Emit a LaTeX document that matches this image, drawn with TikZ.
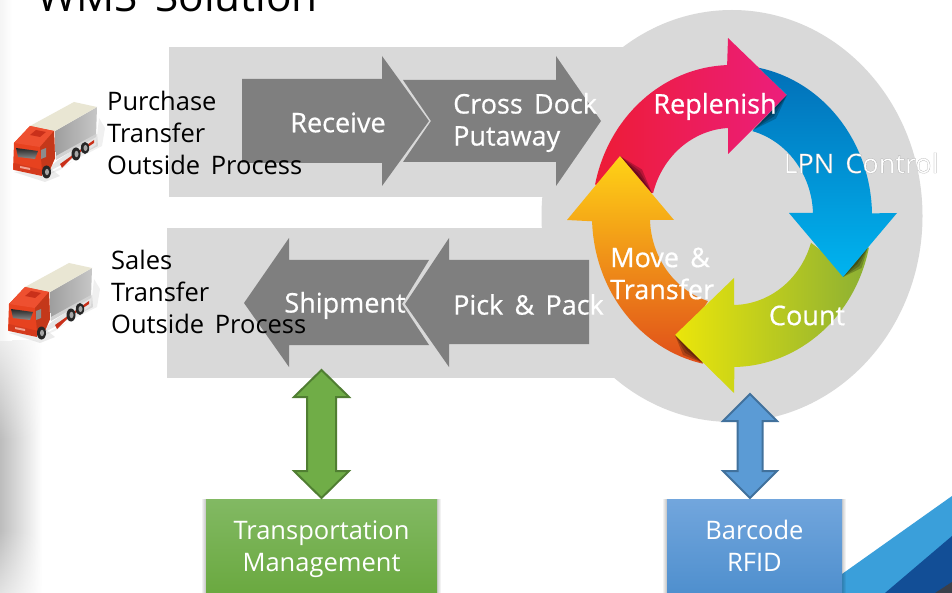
\documentclass[tikz,border=0pt]{standalone}
\usepackage{fontspec}
\setmainfont[WordSpace=1.6]{Open Sans}
\newfontfamily\labfont[WordSpace=1.6,FakeBold=0.6]{Open Sans}
\usetikzlibrary{calc,fadings,shapes.geometric}
\definecolor{panel}{HTML}{D9D9D9}
\definecolor{flow}{HTML}{7F7F7F}
\definecolor{Gfill}{HTML}{70AD47}\definecolor{Gline}{HTML}{507E32}
\definecolor{Bfill}{HTML}{5B9BD5}\definecolor{Bline}{HTML}{41719C}
\definecolor{cream}{HTML}{E9E6D3}
\definecolor{cabA}{HTML}{E7421F}\definecolor{cabB}{HTML}{EE5030}\definecolor{cabC}{HTML}{C9301A}
\definecolor{cabD}{HTML}{D43A1D}\definecolor{cabE}{HTML}{F1A090}
\definecolor{cornerA}{HTML}{3A9FDA}\definecolor{cornerB}{HTML}{124E96}\definecolor{cornerC}{HTML}{3A3F4A}
\definecolor{redA}{HTML}{ED1C36}\definecolor{redB}{HTML}{EC1E7C}
\definecolor{orgA}{HTML}{FFD316}\definecolor{orgB}{HTML}{E04E1A}
\definecolor{grnA}{HTML}{EBE60A}\definecolor{grnB}{HTML}{8BAF34}
\definecolor{bluA}{HTML}{0270B8}\definecolor{bluB}{HTML}{00B4F0}
\definecolor{tmsA}{HTML}{82B963}\definecolor{tmsB}{HTML}{69A83E}
\definecolor{rfiA}{HTML}{72A6DD}\definecolor{rfiB}{HTML}{4D8ECD}
\tikzset{
  panelfill/.style={fill=panel,draw=none},
  flowarrow/.style={fill=flow,draw=none},
  lab/.style={text=white,font=\labfont\fontsize{27}{32}\selectfont,align=center,inner sep=0pt},
  lableft/.style={text=white,font=\labfont\fontsize{27}{32}\selectfont,align=left,inner sep=0pt,anchor=west},
  blk/.style={text=black,font=\fontsize{25.5}{32}\selectfont,align=left,inner sep=0pt,anchor=west},
  box/.style={minimum height=99.2pt,inner sep=0pt,text=white,font=\fontsize{25.5}{32}\selectfont,align=center},
  greenlink/.style={fill=Gfill,draw=Gline,line width=2pt,line join=miter},
  bluelink/.style={fill=Bfill,draw=Bline,line width=2pt,line join=miter},
}
\newcommand{\dblarrow}[6]{% style, top, bottom, head half, shaft half, head length
  \draw[#1] (#2) -- ($(#2)+(#4,#6)$) -- ($(#2)+(#5,#6)$) -- ($(#3)+(#5,-#6)$) -- ($(#3)+(#4,-#6)$) -- (#3)
   -- ($(#3)+(-#4,-#6)$) -- ($(#3)+(-#5,-#6)$) -- ($(#2)+(-#5,#6)$) -- ($(#2)+(-#4,#6)$) -- cycle;}
\newcommand{\edgeshade}[3]{% tip A, end B, offset of the middle
  \foreach \k/\o in {1/.22,.65/.22,.3/.25}{
    \fill[black,opacity=\o] #1 -- ($.5*#1+.5*#2+\k*(#3)$) -- #2 -- cycle;}}
\newcommand{\mytruck}{%
  % ground shadow
  \fill[black,opacity=.06] (40,178) -- (102,146) -- (105,128) -- (99,118) -- (96,145) -- (60,170) -- cycle;
  \fill[black,opacity=.10] (40,176) -- (98,146) -- (97,134) -- (58,160) -- cycle;
  \fill[black,opacity=.08] (14,172) -- (45,182) -- (60,176) -- (50,168) -- cycle;
  % box
  \shade[left color=black!38,right color=black!22] (55,131) -- (97,107) -- (96,136) -- (56,159) -- cycle;
  \fill[black!18] (56,156) -- (96,134) -- (96,137) -- (56,160) -- cycle;
  \fill[cream] (30,126) -- (74,102) -- (97,107) -- (55,131) -- cycle;
  % chassis
  \fill[cabC] (60,164) -- (94,140) -- (94,143) -- (73,157) -- (62,168) -- cycle;
  % cab
  \fill[cabA] (30,126) -- (54,131) -- (55,158) -- (48,174) -- (18,168) -- (13,170) -- (14,143) -- cycle;
  \fill[cabB] (14,143) -- (30,126) -- (54,131) -- (40,147) -- cycle;
  \fill[cabC] (30,135) -- (40,137) -- (46,132) -- (36,130) -- cycle;
  \fill[cabA!85!black] (40,147) -- (54,131) -- (55,158) -- (48,174) -- (42,170) -- cycle;
  % windows
  \shade[top color=black!85,bottom color=black!45] (16,148) -- (38,151) -- (35,159) -- (18,157) -- cycle;
  \fill[black!45] (41,150) -- (46,148) -- (46,157) -- (41,159) -- cycle;
  % bumper
  \fill[cabD] (14,163) -- (43,170) -- (42,176) -- (14,170) -- cycle;
  \fill[cabE] (20,166) -- (30,168) -- (30,170) -- (20,168) -- cycle;
  % wheels
  \fill[black!85] (46.5,172) ellipse (4.5 and 6.5);
  \fill[black!35] (47,172) ellipse (2 and 3.2);
  \fill[black!85] (76,154) ellipse (4.5 and 6.5);
  \fill[black!35] (76.5,154) ellipse (2 and 3.2);
  \fill[black!85] (85,148) ellipse (4.2 and 6);
  \fill[black!35] (85.5,148) ellipse (2 and 3);
}
\begin{document}
\begin{tikzpicture}[x=1pt,y=-1pt]
\useasboundingbox (0,0) rectangle (952,593);
\clip (0,0) rectangle (952,593);
\fill[white] (0,0) rectangle (952,593);

% page decoration
\shade[left color=black!26,right color=white] (0,340) rectangle (42,593);
\fill[white,path fading=south] (0,300) rectangle (42,440);
\fill[white,path fading=north] (0,530) rectangle (42,640);
\shade[left color=black!4,right color=white] (0,0) rectangle (12,340);
\fill[cornerA] (842,574) -- (952,496) -- (952,593) -- (842,593) -- cycle;
\fill[cornerB] (885,593) -- (952,536) -- (952,593) -- cycle;
\fill[cornerC] (935,593) -- (952,582) -- (952,593) -- cycle;

% panels
\fill[panelfill] (732,216) ellipse (190.5 and 206);
\fill[panelfill] (169,47) rectangle (650,197);
\fill[panelfill] (167,228) rectangle (640,378);

% flow arrows
\fill[flowarrow] (242,79) -- (382,79) -- (382,56) -- (429,121) -- (382,186) -- (382,163) -- (242,163) -- cycle;
\fill[flowarrow] (403,80) -- (556,80) -- (556,56) -- (601,121) -- (556,186) -- (556,162) -- (403,162) -- (431,121) -- cycle;
\fill[flowarrow] (244,303) -- (289,238) -- (289,260) -- (429,260) -- (402,304) -- (429,345) -- (289,345) -- (289,367) -- cycle;
\fill[flowarrow] (589,260) -- (449,260) -- (449,238) -- (405,304) -- (449,367) -- (449,344) -- (589,344) -- cycle;

% cycle ring
\coordinate (c) at (732,216);
\shade[left color=redA,right color=redB]
  ($(c)+(192:140 and 151)$) arc[start angle=192,end angle=268,x radius=140,y radius=151]
  -- (728,38) -- (787,95) -- (728,154) -- (728,128)
  arc[start angle=267,end angle=195,x radius=82,y radius=88] -- cycle;
\edgeshade{(620,156)}{(652,193)}{6,-5}
\shade[top color=orgA,bottom color=orgB]
  ($(c)+(102:140 and 151)$) arc[start angle=102,end angle=178,x radius=140,y radius=151]
  -- (567,220) -- (620,156) -- (674,220) -- (650,220)
  arc[start angle=178,end angle=107,x radius=82,y radius=88] -- (690,330) -- cycle;
\edgeshade{(675,335)}{(703,363)}{-6,6}
\shade[left color=grnA,right color=grnB]
  ($(c)+(12:140 and 151)$) arc[start angle=12,end angle=89,x radius=140,y radius=151]
  -- (734,393) -- (675,335) -- (734,278) -- (734,305)
  arc[start angle=89,end angle=17,x radius=82,y radius=88] -- (840,265) -- cycle;
\edgeshade{(843,277)}{(868,247)}{6,6}
\shade[top color=bluA,bottom color=bluB]
  ($(c)+(-79:140 and 151)$) arc[start angle=-79,end angle=-1,x radius=140,y radius=151]
  -- (897,213) -- (843,277) -- (789,213) -- (813,213)
  arc[start angle=-2,end angle=-75,x radius=82,y radius=88] -- (787,95) -- cycle;
\edgeshade{(787,95)}{(753,130)}{6,6}

% trucks
\begin{scope}\mytruck\end{scope}
\begin{scope}[shift={(-5,161)}]\mytruck\end{scope}

% boxes with soft edges
\foreach \w in {1,2,3,4}{
  \fill[black,opacity=.05] (206-\w,499) rectangle (437+\w,593);
  \fill[black,opacity=.05] (667-\w,499) rectangle (842+\w,593);}
\node[box,minimum width=231pt,top color=tmsA,bottom color=tmsB] (tms) at (321.5,548.6)
  {Transportation\strut\\Management\strut};
\node[box,minimum width=175pt,top color=rfiA,bottom color=rfiB] (rfid) at (754.5,548.6)
  {Barcode\strut\\RFID\strut};

% links
\coordinate (shiplink) at (321.5,370);
\coordinate (cyclelink) at (750,394);
\coordinate (tmslink) at (321.5,498);
\coordinate (rfidlink) at (750,498);
\dblarrow{greenlink}{shiplink}{tmslink}{27.5}{14.5}{27}
\dblarrow{bluelink}{cyclelink}{rfidlink}{27}{12.5}{27}

% labels
\node[anchor=base west,inner sep=0pt,font=\fontsize{42.3}{42}\selectfont,text=black] (title) at (37,12) {WMS Solution};
\node[blk] (inbound) at (107,132.5) {Purchase\\Transfer\\Outside Process};
\node[blk] (outbound) at (111,292) {Sales\\Transfer\\Outside Process};
\node[lab] (receive) at (338,122.5) {Receive};
\node[lableft] (cross) at (453,122.5) {Cross Dock\\Putaway};
\node[lab] (shipment) at (345,305.5) {Shipment};
\node[lableft] (pick) at (453,304.5) {Pick \& Pack};
\node[lab] (replenish) at (715,106.5) {Replenish};
\node[lab] (lpn) at (861,163) {\special{pdf:code 0.62 G}LPN Control};
\node[lab] (count) at (807,315.5) {Count};
\node[lableft] (move) at (610,273.5) {Move \&\\Transfer};
\end{tikzpicture}
\end{document}
